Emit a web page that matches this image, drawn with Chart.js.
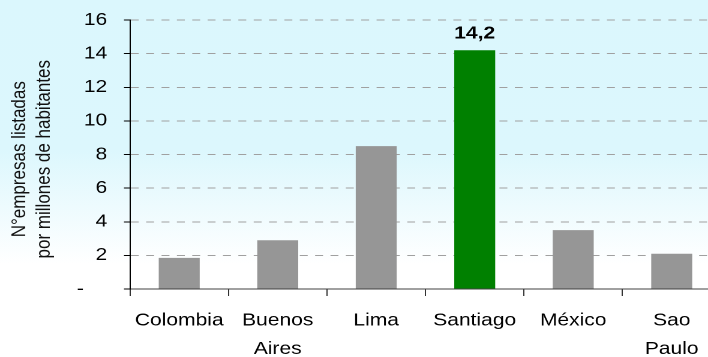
<!DOCTYPE html>
<html>
<head>
<meta charset="utf-8">
<script src="https://cdn.jsdelivr.net/npm/chart.js@4"></script>
<style>
  html, body {
    margin: 0;
    padding: 0;
    width: 708px;
    height: 357px;
    overflow: hidden;
    background: linear-gradient(to bottom, #dbf7fd 0%, #dcf7fd 42%, #ffffff 74%, #ffffff 100%);
  }
  /* chart is laid out narrow and stretched sideways, like the original slide graphic */
  #wrap {
    width: 602px;
    height: 357px;
    transform: scaleX(1.2);
    transform-origin: 0 0;
  }
</style>
</head>
<body>
<div id="wrap"><canvas id="myChart"></canvas></div>
<script>
const cities = [['Colombia'], ['Buenos', 'Aires'], ['Lima'], ['Santiago'], ['México'], ['Sao', 'Paulo']];
const companiesPerMillion = [1.85, 2.9, 8.5, 14.2, 3.5, 2.1];
const yTicks = [0, 2, 4, 6, 8, 10, 12, 14, 16];
const yTitle = ['N°empresas listadas', 'por millones de habitantes'];
const highlightCity = 'Santiago';

Chart.defaults.font.family = 'Arial, "Liberation Sans", sans-serif';
Chart.defaults.color = '#000';

const highlightIndex = cities.findIndex(c => c.join(' ') === highlightCity);

// value label over the highlighted bar, written with a decimal comma
const valueLabel = {
  id: 'valueLabel',
  afterDatasetsDraw(chart) {
    const bar = chart.getDatasetMeta(0).data[highlightIndex];
    const ctx = chart.ctx;
    ctx.save();
    ctx.font = 'bold 17.5px Arial, "Liberation Sans", sans-serif';
    ctx.fillStyle = '#000';
    ctx.textAlign = 'center';
    ctx.textBaseline = 'alphabetic';
    ctx.fillText(String(companiesPerMillion[highlightIndex]).replace('.', ','), bar.x, bar.y - 12);
    ctx.restore();
  }
};

const ctx = document.getElementById('myChart').getContext('2d');
const myChart = new Chart(ctx, {
  type: 'bar',
  data: {
    labels: cities,
    datasets: [{
      data: companiesPerMillion,
      backgroundColor: cities.map((c, i) => i === highlightIndex ? '#008000' : '#969696'),
      borderWidth: 0,
      barPercentage: 0.416,
      categoryPercentage: 1
    }]
  },
  options: {
    responsive: true,
    maintainAspectRatio: false,
    devicePixelRatio: 2,
    animation: false,
    layout: { padding: { top: 20, right: 1.2, left: 0, bottom: 0 } },
    plugins: {
      legend: { display: false },
      tooltip: { enabled: false }
    },
    scales: {
      x: {
        afterFit(scale) { scale.height = 68; },
        grid: {
          offset: true,
          drawOnChartArea: false,
          tickLength: 7,
          tickColor: '#333'
        },
        border: { color: '#404040', width: 1 },
        ticks: {
          font: { size: 17.5, lineHeight: 1.65 },
          padding: 10,
          maxRotation: 0,
          autoSkip: false
        }
      },
      y: {
        min: 0,
        max: 16,
        afterFit(scale) {
          scale.width = 108.3;
          scale.paddingTop = 0;
          scale.paddingBottom = 0;
        },
        afterBuildTicks(scale) { scale.ticks = yTicks.map(v => ({ value: v })); },
        grid: {
          color: '#a0a0a0',
          tickColor: '#000',
          tickLength: 5,
          tickBorderDash: []
        },
        border: { color: '#000', width: 1, dash: [6.6, 6.2] },
        ticks: {
          font: { size: 17.5 },
          padding: 14,
          callback: v => v === 0 ? '-    ' : String(v)
        },
        title: {
          display: true,
          // trailing spaces nudge the rotated lines a little lower
          text: yTitle.map(t => t + '  '),
          font: { size: 17, lineHeight: 1.2 },
          color: '#111',
          padding: { top: 6, bottom: 0 }
        }
      }
    }
  },
  plugins: [valueLabel]
});
</script>
</body>
</html>
